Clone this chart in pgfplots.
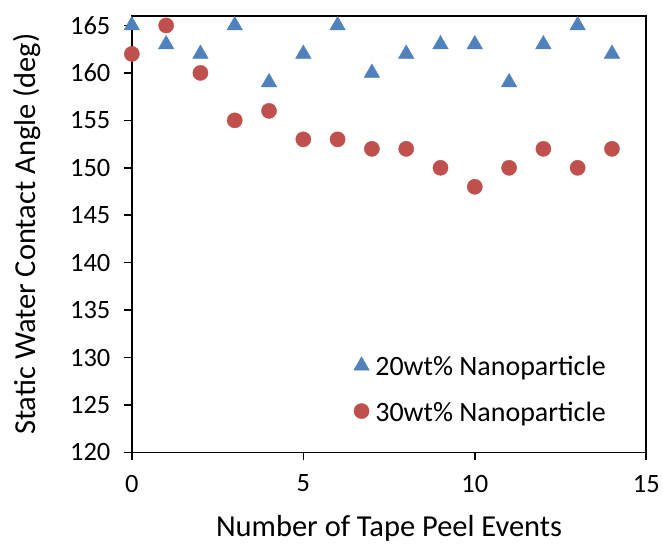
\documentclass[border=0pt]{standalone}
\usepackage{pgfplots}
\pgfplotsset{compat=1.18}
\usepackage{fontspec}
\setmainfont{Carlito}
\definecolor{xlblue}{HTML}{4F81BD}
\definecolor{xlred}{HTML}{C0504D}
\begin{document}
\begin{tikzpicture}
\begin{axis}[
  scale only axis,
  width=515pt, height=437pt,
  xmin=0, xmax=15, ymin=120, ymax=166,
  xtick={0,5,10,15}, ytick={120,125,...,165},
  tick align=outside, tick pos=left,
  major tick length=8pt,
  axis line style={line width=1.6pt},
  every tick/.style={black, line width=1.6pt},
  clip=false,
  /pgf/number format/assume math mode=true,
  tick label style={font=\fontsize{26.5}{30}\selectfont},
  xticklabel style={yshift=-11pt},
  yticklabel style={xshift=-10pt},
  label style={font=\fontsize{30.5}{36}\selectfont},
  xlabel={Number of Tape Peel Events},
  ylabel={Static Water Contact Angle (deg)},
  xlabel style={at={(axis description cs:0.5,-0.192)}, anchor=base},
  ylabel style={at={(axis description cs:-0.1864,0.5)}, anchor=base, rotate=0},
  legend image code/.code={\draw[#1] plot coordinates {(0pt,1pt)};},
  legend style={draw=none, fill=none, inner sep=0pt, at={(0.431,0.221)}, anchor=north west,
    nodes={inner sep=0pt}, font=\fontsize{28}{33}\selectfont, row sep=24.5pt, column sep=6pt},
  legend cell align=left,
]
\addplot[only marks, mark=triangle*, mark size=9pt, color=xlblue] coordinates {
(0,165) (1,163) (2,162) (3,165) (4,159) (5,162) (6,165) (7,160) (8,162) (9,163) (10,163) (11,159) (12,163) (13,165) (14,162)};
\addlegendentry{20wt\% Nanoparticle}
\addplot[only marks, mark=*, mark size=7.6pt, color=xlred] coordinates {
(0,162) (1,165) (2,160) (3,155) (4,156) (5,153) (6,153) (7,152) (8,152) (9,150) (10,148) (11,150) (12,152) (13,150) (14,152)};
\addlegendentry{30wt\% Nanoparticle}
\end{axis}
\path ([shift={(-132pt,-89pt)}]current axis.south west) rectangle ([shift={(16pt,16pt)}]current axis.north east);
\end{tikzpicture}
\end{document}
